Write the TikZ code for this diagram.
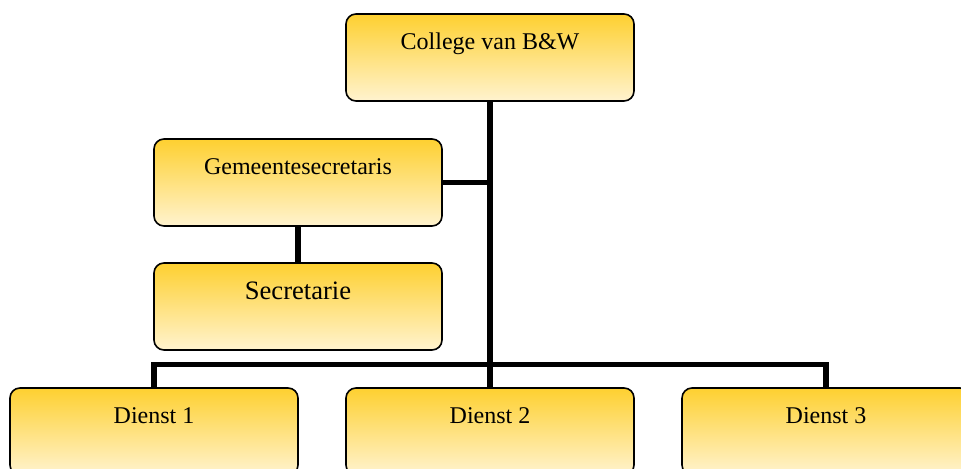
\documentclass[tikz,border=0pt]{standalone}
\usepackage{fontspec}
\setmainfont{Liberation Serif}
\definecolor{boxtop}{RGB}{254,208,48}
\definecolor{boxbottom}{RGB}{255,243,207}
\tikzset{
    org-box/.style = {draw=black, line width=0.8pt, rectangle, rounded corners=5pt,
        top color=boxtop, bottom color=boxbottom, inner sep=0pt,
        minimum width=144pt, text height=17.8pt, text depth=25.7pt, font=\fontsize{12}{14}\selectfont},
    org-line/.style = {draw=black, line width=2.6pt},
}
\begin{document}
\begin{tikzpicture}[x=0.5pt, y=-0.5pt]
\clip (0,0) rectangle (961,469);
\useasboundingbox (0,0) rectangle (961,469);
% boxes
\node [org-box] (college) at (490,57.5) {College van B\&W};
\node [org-box] (gemsec) at (298,182.5) {Gemeentesecretaris};
\node [org-box, font=\fontsize{13.3}{15}\selectfont, text height=18.5pt, text depth=25pt] (secr) at (298,306.5) {Secretarie};
\node [org-box] (dienst1) at (154,431.5) {Dienst 1};
\node [org-box] (dienst2) at (490,431.5) {Dienst 2};
\node [org-box] (dienst3) at (826,431.5) {Dienst 3};
\coordinate (bar) at (490,364.5);
% connectors
\draw [org-line] (college.south) -- (dienst2.north);
\draw [org-line] (dienst1.north) |- (bar) -| (dienst3.north);
\draw [org-line] (gemsec.east) -- (gemsec.east -| college.south);
\draw [org-line] (gemsec.south) -- (secr.north);
\end{tikzpicture}
\end{document}
